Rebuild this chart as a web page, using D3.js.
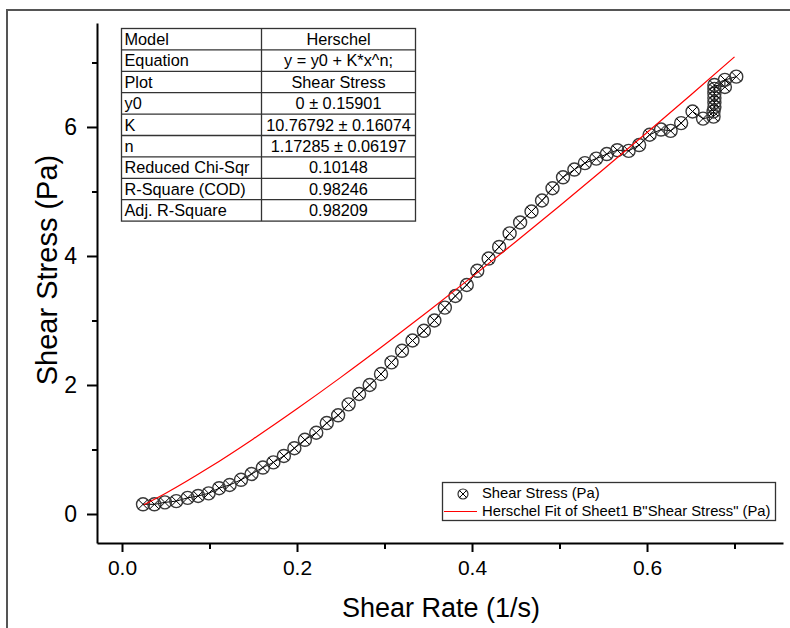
<!DOCTYPE html>
<html>
<head>
<meta charset="utf-8">
<script src="https://cdn.jsdelivr.net/npm/d3@7"></script>
<style>
  body { margin: 0; background: #fff; }
  svg { display: block; font-family: Arial, "Liberation Sans", sans-serif; }
  .axis path, .axis line { stroke: #000; }
  .axis text { font-family: Arial, "Liberation Sans", sans-serif; fill: #000; }
</style>
</head>
<body>
<div id="chart"></div>
<script>
//Data
var shearRate = [0.024, 0.037, 0.049, 0.062, 0.075, 0.087, 0.099, 0.111, 0.123, 0.136,
  0.148, 0.161, 0.173, 0.185, 0.197, 0.209, 0.222, 0.234, 0.247, 0.259,
  0.271, 0.283, 0.296, 0.308, 0.320, 0.332, 0.345, 0.357, 0.369, 0.381,
  0.394, 0.406, 0.419, 0.431, 0.443, 0.455, 0.468, 0.480, 0.492, 0.504,
  0.517, 0.529, 0.542, 0.554, 0.566, 0.579, 0.591, 0.603, 0.616, 0.627,
  0.639, 0.652, 0.664, 0.676, 0.676, 0.677, 0.677, 0.677, 0.677, 0.677,
  0.677, 0.689, 0.689, 0.702]
var shearStress = [0.15, 0.15, 0.18, 0.20, 0.25, 0.28, 0.32, 0.40, 0.45, 0.53,
  0.62, 0.72, 0.80, 0.90, 1.02, 1.15, 1.26, 1.41, 1.53, 1.70,
  1.86, 2.00, 2.17, 2.35, 2.53, 2.69, 2.84, 3.00, 3.20, 3.38,
  3.55, 3.77, 3.96, 4.14, 4.35, 4.52, 4.69, 4.86, 5.05, 5.22,
  5.34, 5.44, 5.51, 5.58, 5.64, 5.63, 5.72, 5.88, 5.96, 5.94,
  6.06, 6.24, 6.13, 6.16, 6.24, 6.31, 6.38, 6.45, 6.52, 6.59,
  6.65, 6.62, 6.73, 6.78]

//Herschel fit curve
var fitRate = [0.025, 0.05, 0.1, 0.15, 0.2, 0.25, 0.3, 0.35, 0.4, 0.45, 0.5, 0.55, 0.6, 0.65, 0.7]
var fitStress = [0.142, 0.321, 0.723, 1.164, 1.631, 2.118, 2.623, 3.143, 3.676, 4.221, 4.776, 5.341, 5.915, 6.497, 7.087]

//Tick values
var xMajorTicks = [0, 0.2, 0.4, 0.6]
var xMinorTicks = [0.1, 0.3, 0.5, 0.7]
var yMajorTicks = [0, 2, 4, 6]
var yMinorTicks = [1, 3, 5, 7]

//Fit results table
var tableNames = ["Model", "Equation", "Plot", "y0", "K", "n", "Reduced Chi-Sqr", "R-Square (COD)", "Adj. R-Square"]
var tableValues = ["Herschel", "y = y0 + K*x^n;", "Shear Stress", "0 \u00b1 0.15901", "10.76792 \u00b1 0.16074",
  "1.17285 \u00b1 0.06197", "0.10148", "0.98246", "0.98209"]

var legendLabels = ["Shear Stress (Pa)", "Herschel Fit of Sheet1 B\"Shear Stress\" (Pa)"]

var width = 790
var height = 628

var svg = d3.select("#chart")
  .append("svg")
  .attr("width", width)
  .attr("height", height)

//Page frame
svg.append("path")
  .attr("d", "M7,630 L7,10 L792,10")
  .attr("fill", "none")
  .attr("stroke", "#555")
  .attr("stroke-width", 2)

//Plot area
var plot = {left: 97, right: 783, top: 23, bottom: 543}

var x = d3.scaleLinear()
  .domain([-0.02857, 0.7554])
  .range([plot.left, plot.right])

var y = d3.scaleLinear()
  .domain([-0.4496, 7.612])
  .range([plot.bottom, plot.top])

//Minor ticks first, without the domain line
svg.append("g")
  .attr("class", "axis")
  .attr("transform", "translate(0," + plot.bottom + ")")
  .call(d3.axisBottom(x).tickValues(xMinorTicks).tickSize(6).tickFormat(""))
  .call(function(g){ g.select(".domain").remove() })
  .selectAll("line").attr("stroke-width", 2)

svg.append("g")
  .attr("class", "axis")
  .attr("transform", "translate(" + plot.left + ",0)")
  .call(d3.axisLeft(y).tickValues(yMinorTicks).tickSize(5).tickFormat(""))
  .call(function(g){ g.select(".domain").remove() })
  .selectAll("line").attr("stroke-width", 2)

//Major ticks and labels
var xAxis = svg.append("g")
  .attr("class", "axis")
  .attr("transform", "translate(0," + plot.bottom + ")")
  .call(d3.axisBottom(x).tickValues(xMajorTicks).tickSize(9).tickSizeOuter(0)
    .tickPadding(8).tickFormat(d3.format(".1f")))
xAxis.select(".domain").attr("stroke-width", 2)
xAxis.selectAll("line").attr("stroke-width", 2)
xAxis.selectAll("text").attr("font-size", 21)

var yAxis = svg.append("g")
  .attr("class", "axis")
  .attr("transform", "translate(" + plot.left + ",0)")
  .call(d3.axisLeft(y).tickValues(yMajorTicks).tickSize(10).tickSizeOuter(0)
    .tickPadding(10).tickFormat(d3.format("d")))
yAxis.select(".domain").attr("stroke-width", 2)
yAxis.selectAll("line").attr("stroke-width", 2)
yAxis.selectAll("text").attr("font-size", 23)

//Axis titles
svg.append("text")
  .attr("x", 441)
  .attr("y", 617)
  .attr("text-anchor", "middle")
  .attr("font-size", 27)
  .text("Shear Rate (1/s)")

svg.append("text")
  .attr("transform", "translate(57,270) rotate(-90)")
  .attr("text-anchor", "middle")
  .attr("font-size", 29)
  .text("Shear Stress (Pa)")

//Data: points joined by a thin line, circle with a cross symbol
var points = shearRate.map(function(d, i){ return {x: d, y: shearStress[i]} })

svg.append("path")
  .datum(points)
  .attr("fill", "none")
  .attr("stroke", "#000")
  .attr("stroke-width", 1)
  .attr("d", d3.line().x(function(d){ return x(d.x) }).y(function(d){ return y(d.y) }))

function drawSymbol(g) {
  g.append("circle")
    .attr("r", 6.5)
    .attr("fill", "none")
    .attr("stroke", "#3a3a3a")
    .attr("stroke-width", 1.4)
  g.append("path")
    .attr("d", "M-4.6,-4.6L4.6,4.6M-4.6,4.6L4.6,-4.6")
    .attr("stroke", "#000")
    .attr("stroke-width", 1)
}

svg.selectAll(".pt")
  .data(points)
  .enter()
  .append("g")
  .attr("class", "pt")
  .attr("transform", function(d){ return "translate(" + x(d.x) + "," + y(d.y) + ")" })
  .each(function(){ drawSymbol(d3.select(this)) })

//Fit line
var fitPoints = fitRate.map(function(d, i){ return {x: d, y: fitStress[i]} })
svg.append("path")
  .datum(fitPoints)
  .attr("fill", "none")
  .attr("stroke", "#ff0000")
  .attr("stroke-width", 1.2)
  .attr("d", d3.line().curve(d3.curveMonotoneX)
    .x(function(d){ return x(d.x) }).y(function(d){ return y(d.y) }))

//Results table
var table = {left: 121.5, top: 28.5, col: 261.5, right: 415.5, row: 21.4}
var tbl = svg.append("g")

tbl.append("rect")
  .attr("x", table.left)
  .attr("y", table.top)
  .attr("width", table.right - table.left)
  .attr("height", table.row * tableNames.length)
  .attr("fill", "#fff")
  .attr("stroke", "#333")
  .attr("stroke-width", 1.3)

tbl.append("line")
  .attr("x1", table.col).attr("x2", table.col)
  .attr("y1", table.top).attr("y2", table.top + table.row * tableNames.length)
  .attr("stroke", "#333")
  .attr("stroke-width", 1.3)

tbl.selectAll(".rowline")
  .data(tableNames.slice(1))
  .enter()
  .append("line")
  .attr("x1", table.left).attr("x2", table.right)
  .attr("y1", function(d, i){ return table.top + table.row * (i + 1) })
  .attr("y2", function(d, i){ return table.top + table.row * (i + 1) })
  .attr("stroke", "#333")
  .attr("stroke-width", 1.3)

tbl.selectAll(".name")
  .data(tableNames)
  .enter()
  .append("text")
  .attr("x", table.left + 3)
  .attr("y", function(d, i){ return table.top + table.row * i + 16.5 })
  .attr("font-size", 16.3)
  .text(function(d){ return d })

tbl.selectAll(".value")
  .data(tableValues)
  .enter()
  .append("text")
  .attr("x", (table.col + table.right) / 2)
  .attr("y", function(d, i){ return table.top + table.row * i + 16.5 })
  .attr("text-anchor", "middle")
  .attr("font-size", 16.3)
  .text(function(d){ return d })

//Legend
var legend = svg.append("g")
legend.append("rect")
  .attr("x", 442.5)
  .attr("y", 482.5)
  .attr("width", 333)
  .attr("height", 38)
  .attr("fill", "#fff")
  .attr("stroke", "#333")
  .attr("stroke-width", 1.3)

var sym = legend.append("g").attr("transform", "translate(463,494)")
sym.append("circle").attr("r", 5).attr("fill", "none").attr("stroke", "#333").attr("stroke-width", 1.2)
sym.append("path").attr("d", "M-3.5,-3.5L3.5,3.5M-3.5,3.5L3.5,-3.5").attr("stroke", "#000").attr("stroke-width", 1)

legend.append("line")
  .attr("x1", 444).attr("x2", 477)
  .attr("y1", 511.5).attr("y2", 511.5)
  .attr("stroke", "#ff0000")
  .attr("stroke-width", 1.2)

legend.selectAll(".ltext")
  .data(legendLabels)
  .enter()
  .append("text")
  .attr("x", 482)
  .attr("y", function(d, i){ return 498 + i * 18 })
  .attr("font-size", 14.8)
  .text(function(d){ return d })
</script>
</body>
</html>
